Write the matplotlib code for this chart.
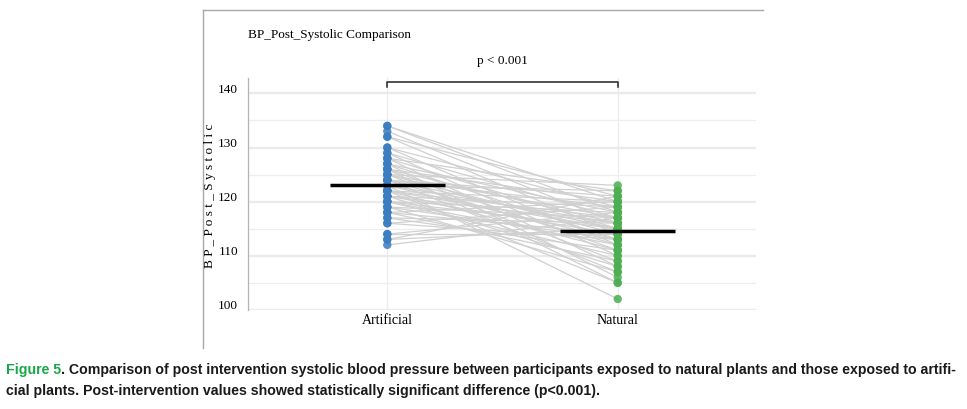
import matplotlib.pyplot as plt
from matplotlib.lines import Line2D
from matplotlib.transforms import ScaledTranslation, blended_transform_factory
import numpy as np

# paired post-intervention systolic values, one entry per participant
artificial = [134, 134, 133, 132, 132, 130, 130, 129, 129, 128,
              128, 128, 127, 127, 127, 126, 126, 126, 126, 125,
              125, 125, 125, 124, 124, 124, 124, 124, 123, 123,
              123, 123, 122, 122, 122, 122, 122, 121, 121, 121,
              121, 120, 120, 120, 120, 119, 119, 119, 118, 118,
              118, 117, 117, 116, 116, 114, 114, 113, 113, 112]
natural = [118, 120, 116, 121, 114, 119, 112, 117, 110, 122,
           115, 108, 118, 113, 106, 120, 116, 111, 105, 123,
           117, 114, 109, 121, 119, 115, 112, 107, 122, 116,
           113, 102, 120, 117, 115, 111, 105, 119, 116, 114,
           108, 118, 115, 112, 110, 117, 113, 107, 120, 114,
           109, 116, 111, 119, 113, 118, 114, 121, 115, 117]

groups = ['Artificial', 'Natural']
group_colors = ['#3a7dc0', '#4cae50']
yticks = [100, 110, 120, 130, 140]

serif = 'Liberation Serif'
ink = '#000000'

fig = plt.figure(figsize=(9.67, 4.09), dpi=100)
ax = fig.add_axes([0.2561, 0.2425, 0.5257, 0.5661])

xs = [1, 2]
for a, n in zip(artificial, natural):
    ax.plot(xs, [a, n], color='#d0d0d0', lw=0.9, zorder=1)

for x, vals, col in zip(xs, [artificial, natural], group_colors):
    ax.scatter([x] * len(vals), vals, s=36, color=col, alpha=0.85,
               edgecolors='none', zorder=3)
    ax.hlines(np.mean(vals), x - 0.25, x + 0.25, color='black', lw=2.5, zorder=4)

ax.set_xlim(0.394, 2.6)
ax.set_ylim(100, 142.8)
ax.set_xticks(xs)
ax.set_xticklabels(groups, fontfamily=serif, fontsize=10)
ax.set_yticks(yticks)
ax.set_yticks(np.arange(105, 141, 10), minor=True)
ax.set_yticklabels([str(t) for t in yticks], fontfamily=serif, fontsize=9.5)
ax.tick_params(axis='both', length=0, colors=ink)
ax.tick_params(axis='y', pad=7)
ax.tick_params(axis='x', pad=3)
ax.tick_params(axis='y', which='minor', length=0)

# labels sit a little above their gridlines in the original
shift = ScaledTranslation(0, 5 / 100, fig.dpi_scale_trans)
for lab in ax.get_yticklabels():
    lab.set_transform(lab.get_transform() + shift)

ax.grid(axis='y', which='major', color='#ebebeb', lw=1.7)
ax.grid(axis='y', which='minor', color='#eeeeee', lw=0.9)
ax.grid(axis='x', which='major', color='#ececec', lw=0.9)
ax.set_axisbelow(True)
for side in ['top', 'right', 'bottom']:
    ax.spines[side].set_visible(False)
ax.spines['left'].set_color('#b3b3b3')
ax.spines['left'].set_linewidth(0.9)

# significance bracket
tr = blended_transform_factory(ax.transData, ax.transAxes)
ax.plot([1, 1, 2, 2], [0.964, 0.985, 0.985, 0.964], transform=tr,
        color='#222222', lw=1.1, clip_on=False)
ax.text(1.5, 1.076, 'p < 0.001', transform=tr, ha='center', va='center',
        fontfamily=serif, fontsize=9.5, color=ink)

fig.text(248 / 967, 1 - 35 / 409, 'BP_Post_Systolic Comparison', ha='left', va='center',
         fontfamily=serif, fontsize=9.5, color=ink)
fig.text(210 / 967, 1 - 196 / 409, 'B P _ P o s t _ S y s t o l i c', rotation=90,
         ha='center', va='center', fontfamily=serif, fontsize=9.5, color=ink)

# panel frame
fig.add_artist(Line2D([203 / 967, 763 / 967], [1 - 9.5 / 409] * 2,
                      transform=fig.transFigure, color='#a8a8a8', lw=1.0))
fig.add_artist(Line2D([203 / 967] * 2, [1 - 9.5 / 409, 1 - 348 / 409],
                      transform=fig.transFigure, color='#a8a8a8', lw=1.0))

# caption
cap_font = dict(fontfamily='Liberation Sans', fontweight='bold', fontsize=10.2)
head = fig.text(6 / 967, 1 - 370 / 409, 'Figure 5', color='#1aa64b', va='center', **cap_font)
ax.annotate('. Comparison of post intervention systolic blood pressure between participants '
            'exposed to natural plants and those exposed to artifi-',
            xy=(1, 0), xycoords=head, va='bottom', ha='left', color='#1a1a1a',
            annotation_clip=False, **cap_font)
fig.text(6 / 967, 1 - 391 / 409,
         'cial plants. Post-intervention values showed statistically significant difference (p<0.001).',
         color='#1a1a1a', va='center', **cap_font)

fig.savefig('out.png', dpi=100)
